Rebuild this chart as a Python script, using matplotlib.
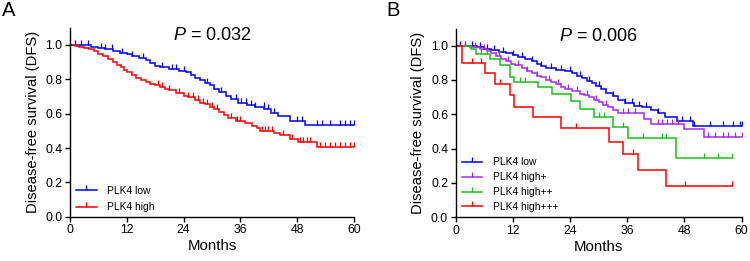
import numpy as np
import matplotlib
matplotlib.use("Agg")
import matplotlib.pyplot as plt
from matplotlib.path import Path
from matplotlib.lines import Line2D

plt.rcParams['font.family'] = ['Liberation Sans', 'DejaVu Sans']
plt.rcParams['mathtext.fontset'] = 'custom'
plt.rcParams['mathtext.it'] = 'Liberation Sans:italic'
plt.rcParams['mathtext.rm'] = 'Liberation Sans'

# ---------------- Data ----------------
# Panel A
low_t = [4.5, 6, 7.5, 9, 10.5, 12, 13, 14.5, 16, 17, 18, 19, 21, 23, 24.5, 25.5, 26.5,
         27.5, 28.5, 29.5, 30.5, 31.5, 33, 34, 35.5, 37.5, 39, 41, 42.5, 44, 46.5, 49.7]
low_s = [0.99, 0.98, 0.975, 0.965, 0.955, 0.945, 0.935, 0.925, 0.91, 0.895, 0.88, 0.87,
         0.86, 0.85, 0.84, 0.825, 0.81, 0.795, 0.78, 0.765, 0.745, 0.725, 0.705, 0.685,
         0.665, 0.65, 0.64, 0.625, 0.605, 0.585, 0.56, 0.533]
low_end = 60
low_cens_A = [1.1, 2.3, 3.9, 6.6, 7.5, 8.8, 11, 13, 15.5, 19.5, 21.5, 22.5, 24, 29, 31.8,
              35.1, 36.1, 37.2, 38.2, 39.1, 40.9, 41.9, 43.1, 47.9, 49.0, 52.1, 53.2,
              55.0, 57.0, 58.1, 59.2, 60]

high_t = [1, 2, 3, 4, 5, 6, 7, 8, 9, 10, 10.7, 11.4, 12.1, 13, 14, 15, 16, 17, 18, 19, 20,
          21, 22.5, 24, 25, 26.5, 27.5, 28.5, 29.5, 30.5, 31.5, 32.5, 33.3, 35, 37, 38.5,
          39.5, 40.2, 43, 44.4, 46.5, 48.2, 52.1]
high_s = [0.995, 0.99, 0.985, 0.975, 0.965, 0.95, 0.935, 0.92, 0.9, 0.885, 0.87, 0.855,
          0.84, 0.825, 0.81, 0.795, 0.785, 0.775, 0.765, 0.755, 0.745, 0.735, 0.72, 0.705,
          0.695, 0.68, 0.665, 0.655, 0.64, 0.625, 0.61, 0.595, 0.575, 0.56, 0.545, 0.53,
          0.515, 0.5, 0.49, 0.475, 0.455, 0.435, 0.405]
high_end = 60
high_cens_A = [18.5, 19.5, 21, 23, 25, 26, 27, 28, 29, 30, 31, 34, 35.2, 35.9, 40.5, 41.2,
               41.9, 42.6, 44.9, 46.8, 48.6, 49.3, 50.0, 50.7, 52.8, 53.9, 54.9, 56.0,
               57.0, 58.1, 59.1, 60]

# Panel B
low_cens_B = [1, 2, 3.5, 5, 6.5, 8, 10, 12, 14, 16, 18, 20, 22, 24, 26, 28, 30, 33, 35.5,
              37, 38.5, 40, 42.5, 47.5, 49.1, 50.0, 53.3, 56.1, 58.2, 59.6, 60]

hp_t = [3, 5, 6.5, 7.5, 8.5, 9.5, 10.5, 11.5, 12.5, 14, 15, 16, 17, 18, 19, 20, 21, 22, 23,
        24.5, 26, 27, 28, 29, 30, 31, 32, 33, 34, 39.5, 41, 48, 52]
hp_s = [0.99, 0.98, 0.97, 0.955, 0.94, 0.925, 0.91, 0.895, 0.885, 0.87, 0.855, 0.84, 0.825,
        0.815, 0.80, 0.79, 0.775, 0.76, 0.75, 0.735, 0.72, 0.71, 0.70, 0.685, 0.67, 0.655,
        0.64, 0.625, 0.61, 0.57, 0.545, 0.515, 0.468]
hp_end = 60
hp_cens = [2, 4, 6, 9, 11, 13, 15, 17, 19.5, 21.5, 23.5, 25.5, 27.5, 29.5, 31.5, 35.2, 36.2,
           37.6, 42.5, 43.2, 44.3, 45.4, 46.6, 53.0, 54.4, 56.1, 57.2, 58.6, 60]

hpp_t = [3.3, 4.3, 7.3, 9.3, 11.3, 12.2, 17.3, 20.1, 24.1, 26.1, 29.1, 33.1, 36.1, 46.2]
hpp_s = [0.98, 0.953, 0.922, 0.885, 0.82, 0.79, 0.757, 0.72, 0.68, 0.631, 0.583, 0.524,
         0.46, 0.344]
hpp_end = 58
hpp_cens = [5.4, 6.5, 13.5, 14.6, 30.1, 31.2, 35.2, 39.2, 43.2, 44.2, 52.2, 55.1, 58]

hppp_t = [1.4, 6.2, 8.3, 11.3, 12.3, 16.2, 22.1, 32.2, 35.2, 38.2, 44.1]
hppp_s = [0.897, 0.839, 0.777, 0.711, 0.645, 0.583, 0.518, 0.44, 0.369, 0.276, 0.183]
hppp_end = 58
hppp_cens = [3.4, 5.3, 9.2, 25.2, 37.1, 48.1, 58]

x_ticks = [0, 12, 24, 36, 48, 60]
y_ticks = [0.0, 0.2, 0.4, 0.6, 0.8, 1.0]
p_A = "0.032"
p_B = "0.006"

BLUE = '#0000FF'
RED = '#FF0000'
PURPLE = '#A52AE8'
GREEN = '#1DBF1D'

tick_marker = Path([(0, 0), (0, 1)], [Path.MOVETO, Path.LINETO])


def surv_at(times, surv, t):
    idx = np.searchsorted(np.asarray(times), t, side='right')
    s = np.concatenate([[1.0], surv])
    return s[idx]


def km(ax, times, surv, end, cens, color):
    xs = np.concatenate([[0], times, [end]])
    ys = np.concatenate([[1.0], surv, [surv[-1]]])
    ax.step(xs, ys, where='post', color=color, lw=1.1, solid_joinstyle='miter')
    cy = [surv_at(times, surv, c) for c in cens]
    ax.plot(cens, cy, linestyle='none', marker=tick_marker, ms=7, mew=0.9,
            color=color)


def style(ax):
    ax.set_xlim(0, 60)
    ax.set_ylim(0, 1.1)
    ax.set_xticks(x_ticks)
    ax.set_yticks(y_ticks)
    ax.set_yticklabels([f"{v:.1f}" for v in y_ticks])
    for s in ['top', 'right']:
        ax.spines[s].set_visible(False)
    for s in ['left', 'bottom']:
        ax.spines[s].set_linewidth(1.0)
    ax.tick_params(direction='out', length=3.5, width=1.0, labelsize=8.8, pad=2)
    ax.set_xlabel('Months', fontsize=10.8, labelpad=2)
    ax.set_ylabel('Disease-free survival (DFS)', fontsize=10.6, labelpad=4)


fig = plt.figure(figsize=(7.5, 2.61), dpi=100)
axA = fig.add_axes([0.0933, 0.1697, 0.3787, 0.7238])
axB = fig.add_axes([0.6076, 0.1674, 0.3813, 0.7234])

km(axA, low_t, low_s, low_end, low_cens_A, BLUE)
km(axA, high_t, high_s, high_end, high_cens_A, RED)
style(axA)

km(axB, low_t, low_s, low_end, low_cens_B, BLUE)
km(axB, hp_t, hp_s, hp_end, hp_cens, PURPLE)
km(axB, hpp_t, hpp_s, hpp_end, hpp_cens, GREEN)
km(axB, hppp_t, hppp_s, hppp_end, hppp_cens, RED)
style(axB)


def handles(colors):
    return [Line2D([0], [0], color=c, lw=1.1, marker=tick_marker, ms=7, mew=0.9)
            for c in colors]


axA.legend(handles([BLUE, RED]), ['PLK4 low', 'PLK4 high'], loc='lower left',
           bbox_to_anchor=(0.0, -0.01), frameon=False, fontsize=7.4, handlelength=2.0,
           handletextpad=1.0, labelspacing=0.65, borderaxespad=0.2)
axB.legend(handles([BLUE, PURPLE, GREEN, RED]),
           ['PLK4 low', 'PLK4 high+', 'PLK4 high++', 'PLK4 high+++'],
           loc='lower left', bbox_to_anchor=(0.0, -0.005), frameon=False, fontsize=7.4,
           handlelength=2.0, handletextpad=1.0, labelspacing=0.48, borderaxespad=0.2)

axA.text(0.5, 0.96, r'$P$ = ' + p_A, transform=axA.transAxes, ha='center', va='center',
         fontsize=13)
axB.text(0.5, 0.96, r'$P$ = ' + p_B, transform=axB.transAxes, ha='center', va='center',
         fontsize=13)

fig.text(0.002, 0.995, 'A', fontsize=14.5, va='top', ha='left')
fig.text(0.515, 0.995, 'B', fontsize=14.5, va='top', ha='left')

fig.savefig('out.png', dpi=100)
